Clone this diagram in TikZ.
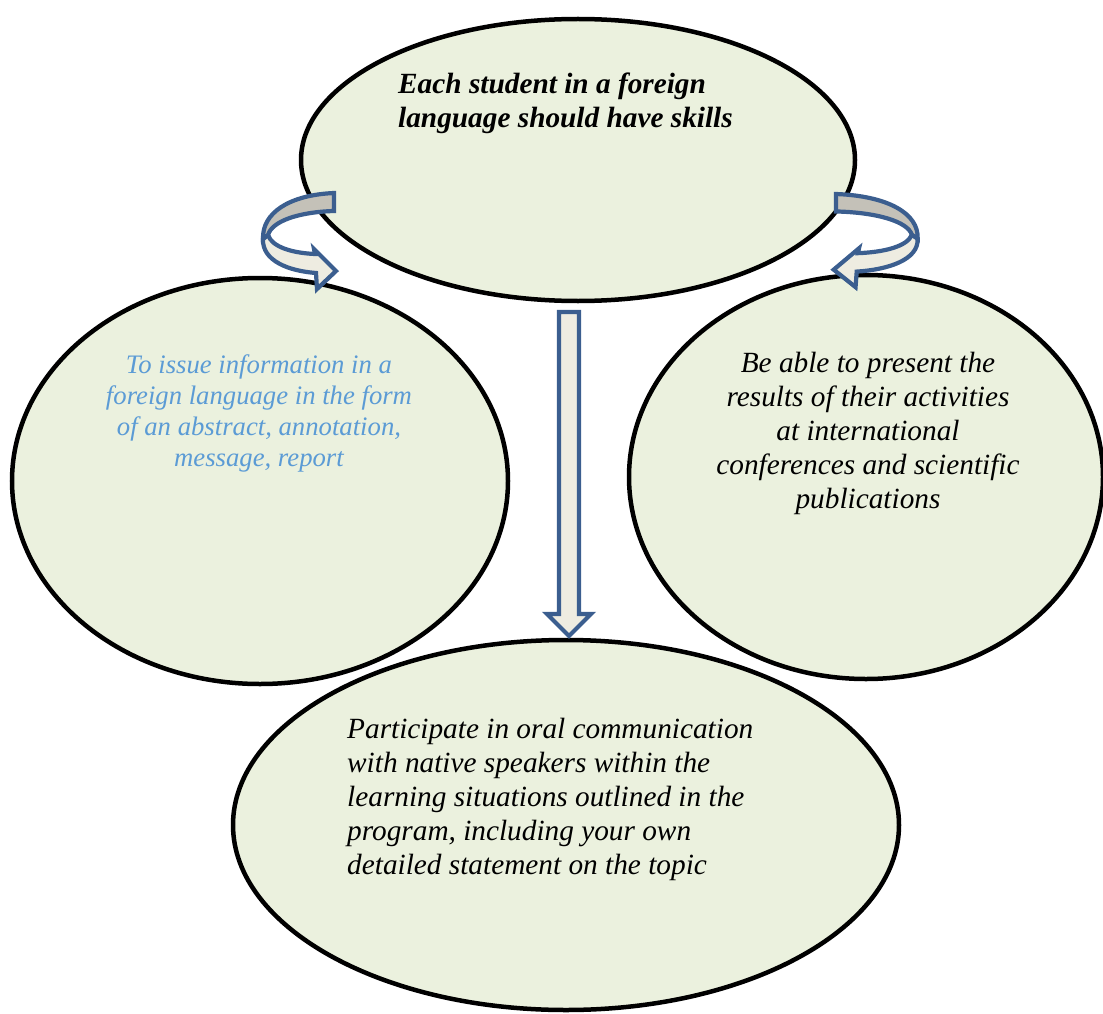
\documentclass[tikz,border=0pt]{standalone}
\usepackage{fontspec}
\setmainfont{Liberation Serif}
\usetikzlibrary{shapes.geometric}
\definecolor{ovalfill}{HTML}{EBF1DE}
\definecolor{arrline}{HTML}{3B5E8F}
\definecolor{arrlight}{HTML}{EEECE1}
\definecolor{arrdark}{HTML}{C4C1B8}
\definecolor{infoblue}{HTML}{5B9BD5}
\tikzset{
 oval/.style={ellipse,draw,line width=4.5pt,fill=ovalfill,inner sep=0},
 txt/.style={font=\itshape\fontsize{29.3}{34}\selectfont,inner sep=0},
 blockarr/.style={draw=arrline,line width=4.2pt,line join=miter},
 uturn/.pic={
  \draw[blockarr,fill=arrlight] (-71,46) .. controls (-72,68) and (-45,78) .. (-18,80)
   -- (-17,96) -- (2,78) -- (-20,56) -- (-19,61) .. controls (-42,60) and (-62,54) .. (-66,42) -- cycle;
  \draw[blockarr,fill=arrdark] (0,0) -- (0,18) .. controls (-35,19) and (-62,28) .. (-66,42)
   -- (-71,46) .. controls (-72,20) and (-45,2) .. (0,0) -- cycle;
 }
}
\begin{document}
\begin{tikzpicture}[x=1pt,y=-1pt]
\useasboundingbox (0,0) rectangle (1103,1014);
\node[oval,minimum width=554pt,minimum height=282pt] (skills) at (578,160) {};
\node[oval,minimum width=496pt,minimum height=406pt] (inform) at (260,481) {};
\node[oval,minimum width=474pt,minimum height=404pt] (present) at (866,477) {};
\node[oval,minimum width=666pt,minimum height=370pt] (oral) at (566,825) {};
\node[txt,font=\bfseries\itshape\fontsize{29.3}{34}\selectfont,anchor=west,align=left] (skillstxt) at (398,103)
 {Each student in a foreign\\language should have skills};
\node[txt,text=infoblue,align=center,font=\itshape\fontsize{26.7}{31}\selectfont] (informtxt) at (259,413)
 {To issue information in a\\foreign language in the form\\of an abstract, annotation,\\message, report};
\node[txt,align=center] (presenttxt) at (868,433)
 {Be able to present the\\results of their activities\\at international\\conferences and scientific\\publications};
\node[txt,anchor=west,align=left] (oraltxt) at (347,799)
 {Participate in oral communication\\with native speakers within the\\learning situations outlined in the\\program, including your own\\detailed statement on the topic};
\draw[blockarr,fill=arrlight] (559,312) -- (579,312) -- (579,614) -- (591,614) -- (569,636)
 -- (547,614) -- (559,614) -- cycle;
\pic at (334,193) {uturn};
\pic[xscale=-1.15,yscale=0.97] at (836,194) {uturn};
\end{tikzpicture}
\end{document}
